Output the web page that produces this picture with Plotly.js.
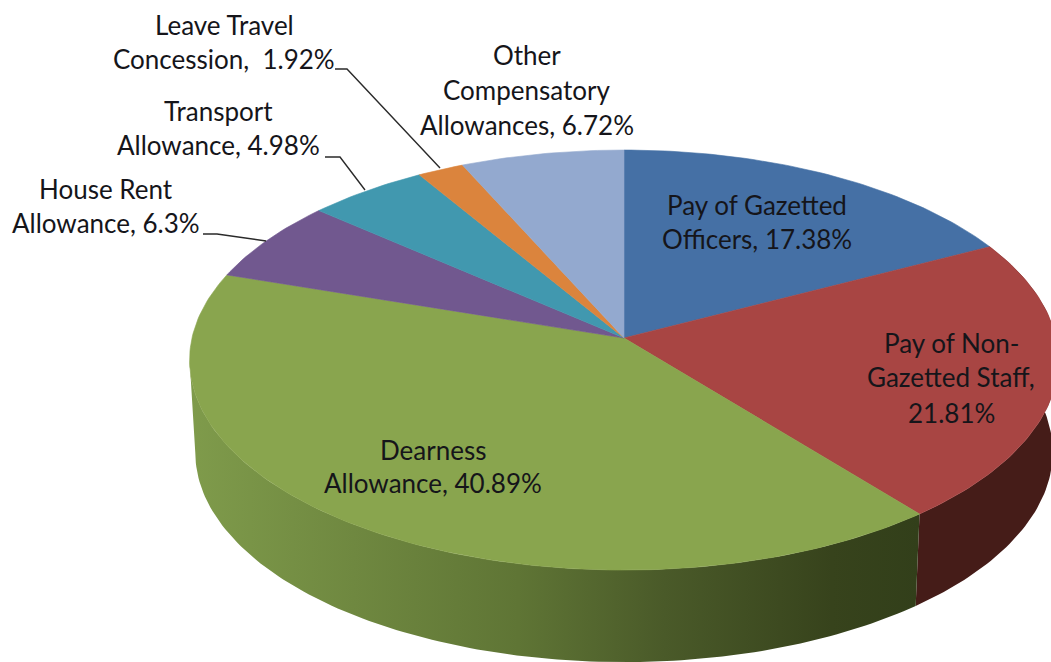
<!DOCTYPE html>
<html>
<head>
<meta charset="utf-8">
<script src="https://cdn.plot.ly/plotly-3.0.1.min.js"></script>
<style>html,body{margin:0;padding:0;background:#fff}</style>
</head>
<body>
<div id="chart" style="width:1051px;height:662px"></div>
<script>
// Data, clockwise from 12 o'clock
const categories = ["Pay of Gazetted Officers", "Pay of Non-Gazetted Staff", "Dearness Allowance", "House Rent Allowance", "Transport Allowance", "Leave Travel Concession", "Other Compensatory Allowances"];
const shares = [17.38, 21.81, 40.89, 6.3, 4.98, 1.92, 6.72];
const sliceColors = ["#4570a5", "#a84543", "#89a54e", "#71588f", "#4198af", "#db843d", "#93a9cf"];
const labelLines = [
  ["Pay of Gazetted", "Officers, 17.38%"],
  ["Pay of Non-", "Gazetted Staff,", "21.81%"],
  ["Dearness", "Allowance, 40.89%"],
  ["House Rent", "Allowance, 6.3%"],
  ["Transport", "Allowance, 4.98%"],
  ["Leave Travel", "Concession,  1.92%"],
  ["Other", "Compensatory", "Allowances, 6.72%"]
];

// Layout: where each label's lines sit, and its leader line
const labelCentreX = [757, 951, 433, 106, 218, 224, 527];
const labelLineY = [[205, 239], [343, 377, 413], [450, 483], [189, 223], [111, 145], [25, 59], [55, 90, 125]];
const leaders = {
  3: {x: [203, 217, 266], y: [234, 234, 241]},
  4: {x: [325, 340, 365], y: [157, 157, 190]},
  5: {x: [335, 347, 440], y: [69, 69, 168]}
};

// Perspective projection of the pie disc onto the page
const view = {cx: 624, cy: 338, a: 432, b: 207.7, k: 0.105, depth: 92, depthScale: 0.987};
const leftEdgeTurn = 1 - Math.acos(-view.k) / (2 * Math.PI);
function project(turn, lower) {
  const t = turn * 2 * Math.PI, s = Math.sin(t), c = Math.cos(t), d = 1 + view.k * c;
  let dx = view.a * s / d, dy = -view.b * c / d;
  if (lower) { dx *= view.depthScale; dy += view.depth; }
  return [view.cx + dx, view.cy + dy];
}
function arc(from, to, lower) {
  const n = Math.max(2, Math.ceil(Math.abs(to - from) * 360)), out = [];
  for (let i = 0; i <= n; i++) out.push(project(from + (to - from) * i / n, lower));
  return out;
}

const total = shares.reduce((p, v) => p + v, 0);
let run = 0;
const spans = shares.map(v => { const s = [run / total, (run + v) / total]; run += v; return s; });

function wall(i, scale) {
  const a = spans[i][0], b = Math.min(spans[i][1], leftEdgeTurn);
  const pts = arc(a, b, false).concat(arc(b, a, true));
  pts.push(pts[0]);
  return {type: "scatter", mode: "lines", x: pts.map(p => p[0]), y: pts.map(p => p[1]),
    fill: "toself", line: {width: 0, color: "rgba(0,0,0,0)"},
    fillgradient: {type: "horizontal", colorscale: scale},
    hoverinfo: "skip", showlegend: false};
}
const traces = [
  wall(1, [[0, "#451c18"], [1, "#451c18"]]),
  wall(2, [[0, "#7f9b4b"], [0.45, "#5f7535"], [0.65, "#4a5a29"], [0.88, "#37431c"], [1, "#323f1a"]])
];
shares.forEach((v, i) => {
  const pts = [[view.cx, view.cy]].concat(arc(spans[i][0], spans[i][1], false));
  pts.push(pts[0]);
  traces.push({type: "scatter", mode: "lines", name: categories[i],
    x: pts.map(p => p[0]), y: pts.map(p => p[1]),
    fill: "toself", fillcolor: sliceColors[i],
    line: {width: 0.6, color: sliceColors[i]},
    text: v + "%", hoverinfo: "name+text", showlegend: false});
});
Object.keys(leaders).forEach(k => {
  traces.push({type: "scatter", mode: "lines", x: leaders[k].x, y: leaders[k].y,
    line: {color: "#2a2a2a", width: 1.4}, hoverinfo: "skip", showlegend: false});
});

const annotations = [];
labelLines.forEach((lines, i) => lines.forEach((t, j) => annotations.push({
  x: labelCentreX[i], y: labelLineY[i][j], xref: "x", yref: "y", text: t, showarrow: false,
  xanchor: "center", yanchor: "middle",
  font: {family: "Lato, sans-serif", size: 26, color: "#15151a"}
})));

Plotly.newPlot("chart", traces, {
  width: 1051, height: 662,
  margin: {l: 0, r: 0, t: 0, b: 0},
  paper_bgcolor: "#fff", plot_bgcolor: "#fff", showlegend: false,
  xaxis: {range: [0, 1051], visible: false, fixedrange: true},
  yaxis: {range: [662, 0], visible: false, fixedrange: true},
  annotations
}, {displayModeBar: false, staticPlot: true});
</script>
</body>
</html>
